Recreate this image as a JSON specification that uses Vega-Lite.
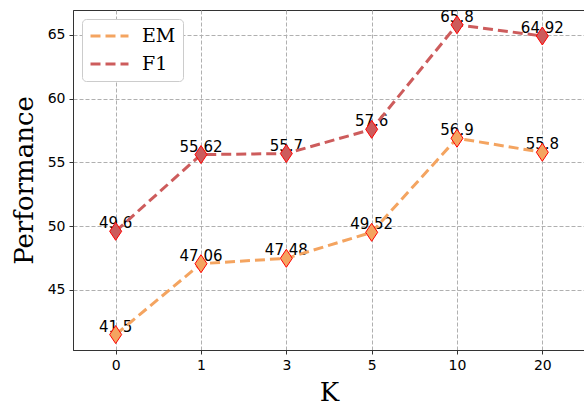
{
  "$schema": "https://vega.github.io/schema/vega-lite/v6.json",
  "autosize": {"type": "none"},
  "padding": {"left": 73, "top": 10, "right": 0, "bottom": 55},
  "width": 512,
  "height": 340,
  "background": "white",
  "config": {
    "view": {"stroke": "#333333", "strokeWidth": 1},
    "axis": {
      "grid": true,
      "gridColor": "#b0b0b0",
      "gridDash": [4, 2],
      "gridWidth": 1,
      "domainColor": "#333333",
      "tickColor": "#333333",
      "tickSize": 4,
      "labelFont": "DejaVu Sans",
      "labelFontSize": 14,
      "labelColor": "#000000",
      "labelPadding": 4,
      "titleFont": "DejaVu Serif",
      "titleFontSize": 26,
      "titleFontWeight": "normal",
      "titleColor": "#000000"
    }
  },
  "data": {
    "values": [
      {"K": "0", "metric": "EM", "value": 41.5},
      {"K": "1", "metric": "EM", "value": 47.06},
      {"K": "3", "metric": "EM", "value": 47.48},
      {"K": "5", "metric": "EM", "value": 49.52},
      {"K": "10", "metric": "EM", "value": 56.9},
      {"K": "20", "metric": "EM", "value": 55.8},
      {"K": "0", "metric": "F1", "value": 49.6},
      {"K": "1", "metric": "F1", "value": 55.62},
      {"K": "3", "metric": "F1", "value": 55.7},
      {"K": "5", "metric": "F1", "value": 57.6},
      {"K": "10", "metric": "F1", "value": 65.8},
      {"K": "20", "metric": "F1", "value": 64.92}
    ]
  },
  "encoding": {
    "x": {
      "field": "K",
      "type": "ordinal",
      "sort": ["0", "1", "3", "5", "10", "20"],
      "scale": {"type": "point", "padding": 0.5},
      "axis": {"labelAngle": 0, "title": "K", "titlePadding": 7}
    },
    "y": {
      "field": "value",
      "type": "quantitative",
      "scale": {"domain": [40.29, 66.96], "nice": false, "zero": false},
      "axis": {"values": [45, 50, 55, 60, 65], "title": "Performance", "titlePadding": 10}
    }
  },
  "layer": [
    {
      "mark": {"type": "text", "font": "DejaVu Sans", "fontSize": 15, "color": "#000000", "baseline": "alphabetic", "dy": -3},
      "encoding": {"text": {"field": "value", "type": "quantitative"}}
    },
    {
      "mark": {"type": "line", "strokeWidth": 3, "strokeDash": [10, 5]},
      "encoding": {
        "color": {
          "field": "metric",
          "type": "nominal",
          "scale": {"domain": ["EM", "F1"], "range": ["#f4a460", "#cd5c5c"]},
          "legend": {
            "title": null,
            "orient": "none",
            "legendX": 9,
            "legendY": 9,
            "symbolType": "stroke",
            "symbolSize": 1444,
            "symbolStrokeWidth": 3,
            "symbolDash": [10, 5],
            "clipHeight": 20,
            "labelFont": "DejaVu Serif",
            "labelFontSize": 19,
            "labelColor": "#000000",
            "labelOffset": 12,
            "rowPadding": 8,
            "padding": 7,
            "strokeColor": "#cccccc",
            "fillColor": "white",
            "cornerRadius": 4
          }
        }
      }
    },
    {
      "mark": {"type": "point", "shape": "M0,-1L0.667,0L0,1L-0.667,0Z", "size": 324, "filled": true, "opacity": 1, "stroke": "#ff0000", "strokeWidth": 1},
      "encoding": {
        "fill": {
          "field": "metric",
          "type": "nominal",
          "scale": {"domain": ["EM", "F1"], "range": ["#f4a460", "#cd5c5c"]},
          "legend": null
        }
      }
    }
  ]
}
